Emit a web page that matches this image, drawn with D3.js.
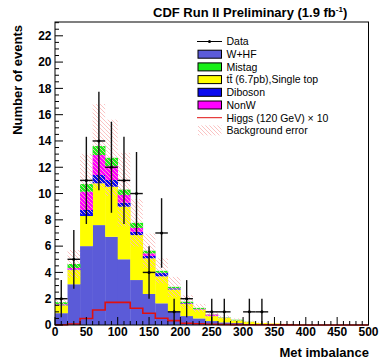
<!DOCTYPE html>
<html><head><meta charset="utf-8">
<script src="https://cdn.jsdelivr.net/npm/d3@7"></script>
<style>body{margin:0;background:#fff}svg{display:block}text{font-family:"Liberation Sans",Arial,Helvetica,sans-serif}</style>
</head><body>
<script>
// bin lower edges (GeV), width 20
const binLow = [0,20,40,60,80,100,120,140,160,180,200,220,240,260,280,300,320,340,360,380,400,420,440,460,480];
const binWidth = 20;
const whf    = [0.9,3.1,6.0,7.6,6.71,5.0,3.42,2.36,1.65,1.06,0.68,0.5,0.3,0.2,0.15,0.08,0.05,0.04,0.02,0.01,0,0,0,0,0];
const ttop   = [0.6,1.08,2.29,3.18,3.81,4.0,3.42,2.71,2.05,1.64,0.92,0.68,0.38,0.35,0.2,0.16,0.1,0.08,0.06,0.03,0.01,0,0,0,0];
const dibos  = [0.03,0.04,0.46,0.63,0.51,0.3,0.25,0.18,0.25,0.08,0.05,0.02,0.02,0.01,0.01,0,0,0,0,0,0,0,0,0,0];
const nonw   = [0.05,0.12,1.39,1.52,1.06,0.6,0.3,0.2,0.02,0.02,0.02,0.02,0.1,0,0,0,0,0,0,0,0,0,0,0,0];
const mistag = [0.15,0.3,0.58,0.68,0.63,0.4,0.38,0.2,0.15,0.1,0.1,0.08,0.02,0.02,0.04,0.01,0,0,0,0,0,0,0,0,0];
const bkgErr = [0.3,1.07,2.3,3.2,2.9,2.8,1.8,1.3,0.95,0.76,0.5,0.3,0.2,0.15,0.1,0.08,0.05,0.04,0.03,0.02,0,0,0,0,0];
const higgs  = [0.02,0.08,0.5,1.14,1.72,1.72,1.27,0.89,0.51,0.33,0.13,0.1,0.06,0.04,0.03,0.02,0.02,0.01,0.01,0,0,0,0,0,0];
const dataN  = [2,5,11,14,12,11,10,4,7,1,2,0,1,1,0,1,1,0,0,0,0,0,0,0,0];
const xTicks = [0,50,100,150,200,250,300,350,400,450,500];
const yTicks = [0,2,4,6,8,10,12,14,16,18,20,22];
const series = [
  {name:"W+HF", vals:whf, color:"#5b5bd8"},
  {name:"tt\u0304 (6.7pb),Single top", vals:ttop, color:"#ffff00"},
  {name:"Diboson", vals:dibos, color:"#0a0af0"},
  {name:"NonW", vals:nonw, color:"#ff00ff"},
  {name:"Mistag", vals:mistag, color:"#18f018"}
];
const legendOrder = ["Data","W+HF","Mistag","tt\u0304 (6.7pb),Single top","Diboson","NonW","Higgs (120 GeV) \u00d7 10","Background error"];

const W=381,H=364;
const svg=d3.select("body").append("svg").attr("width",W).attr("height",H);
const x=d3.scaleLinear().domain([0,500]).range([55,368.5]);
const y=d3.scaleLinear().domain([0,23.05]).range([325,22]);

const defs=svg.append("defs");
const pat=defs.append("pattern").attr("id","hatch").attr("patternUnits","userSpaceOnUse").attr("width",4).attr("height",4);
pat.append("path").attr("d","M-1,-1L5,5M-1,3L1,5M3,-1L5,1").attr("stroke","#f9bcbc").attr("stroke-width",0.9);

// stacked bars
const keys=series.map(s=>s.name);
const rows=binLow.map((b,i)=>{const r={b};series.forEach(s=>r[s.name]=s.vals[i]);return r;});
const stack=d3.stack().keys(keys)(rows);
stack.forEach((layer,li)=>{
  svg.append("g").selectAll("rect").data(layer).join("rect")
    .attr("x",d=>x(d.data.b)).attr("width",d=>x(d.data.b+binWidth)-x(d.data.b)+0.3)
    .attr("y",d=>y(d[1])).attr("height",d=>Math.max(0,y(d[0])-y(d[1])))
    .attr("fill",series[li].color);
});
// error band
const totals=binLow.map((b,i)=>series.reduce((a,s)=>a+s.vals[i],0));
svg.append("g").selectAll("rect").data(binLow.map((b,i)=>({b,t:totals[i],e:bkgErr[i]})).filter(d=>d.e>0)).join("rect")
  .attr("x",d=>x(d.b)).attr("width",d=>x(d.b+binWidth)-x(d.b))
  .attr("y",d=>y(d.t+d.e)).attr("height",d=>y(Math.max(0,d.t-d.e))-y(d.t+d.e))
  .attr("fill","url(#hatch)");
// Higgs step line
const hpts=[];
binLow.forEach((b,i)=>{hpts.push([x(b),y(higgs[i])]);hpts.push([x(b+binWidth),y(higgs[i])]);});
svg.append("path").attr("d",d3.line()(hpts)).attr("fill","none").attr("stroke","#e01010").attr("stroke-width",1.6);
// data
const dg=svg.append("g");
binLow.forEach((b,i)=>{
  const n=dataN[i]; if(n<=0) return;
  const cx=x(b+binWidth/2), e=Math.sqrt(n);
  dg.append("line").attr("x1",cx).attr("x2",cx).attr("y1",y(n+e)).attr("y2",y(Math.max(0,n-e))).attr("stroke","#111").attr("stroke-width",1.4);
  dg.append("line").attr("x1",x(b)).attr("x2",x(b+binWidth)).attr("y1",y(n)).attr("y2",y(n)).attr("stroke","#111").attr("stroke-width",1.4);
  dg.append("circle").attr("cx",cx).attr("cy",y(n)).attr("r",1.5).attr("fill","#000");
});
// frame
svg.append("rect").attr("x",55).attr("y",22).attr("width",313.5).attr("height",303).attr("fill","none").attr("stroke","#000").attr("stroke-width",1);
// y ticks
const ax=svg.append("g");
d3.range(0,23.01,0.5).forEach(v=>{
  const major=Math.abs(v%2)<1e-6;
  ax.append("line").attr("x1",55).attr("x2",55+(major?8:4)).attr("y1",y(v)).attr("y2",y(v)).attr("stroke","#000").attr("stroke-width",1);
});
yTicks.forEach(v=>ax.append("text").attr("x",51.5).attr("y",y(v)+4.3).attr("text-anchor","end").attr("font-size",12).attr("font-weight","bold").text(v));
d3.range(0,500.1,10).forEach(v=>{
  const major=v%50===0;
  ax.append("line").attr("x1",x(v)).attr("x2",x(v)).attr("y1",325).attr("y2",325-(major?8:4)).attr("stroke","#000").attr("stroke-width",1);
});
xTicks.forEach(v=>ax.append("text").attr("x",x(v)).attr("y",336).attr("text-anchor","middle").attr("font-size",12).attr("font-weight","bold").text(v));
// axis titles
svg.append("text").attr("x",369).attr("y",357).attr("text-anchor","end").attr("font-size",13).attr("font-weight","bold").text("Met imbalance");
svg.append("text").attr("transform","translate(22,25) rotate(-90)").attr("text-anchor","end").attr("font-size",13).attr("font-weight","bold").text("Number of events");
// title
const t=svg.append("text").attr("x",153).attr("y",17).attr("font-size",13).attr("font-weight","bold");
t.append("tspan").text("CDF Run II Preliminary (1.9 fb");
t.append("tspan").attr("dy",-5).attr("font-size",8).text("-1");
t.append("tspan").attr("dy",5).text(")");
// legend
const lg=svg.append("g").attr("font-size",10.5);
legendOrder.forEach((name,i)=>{
  const cy=41.5+i*12.7;
  const s=series.find(q=>q.name===name);
  if(name==="Data"){
    lg.append("line").attr("x1",197).attr("x2",222).attr("y1",cy).attr("y2",cy).attr("stroke","#000").attr("stroke-width",1);
    lg.append("circle").attr("cx",209.5).attr("cy",cy).attr("r",1.5);
  } else if(s){
    lg.append("rect").attr("x",198).attr("y",cy-4).attr("width",23.5).attr("height",8).attr("fill",s.color).attr("stroke","#000").attr("stroke-width",1);
  } else if(name.startsWith("Higgs")){
    lg.append("line").attr("x1",197).attr("x2",222).attr("y1",cy).attr("y2",cy).attr("stroke","#e01010").attr("stroke-width",1);
  } else {
    lg.append("rect").attr("x",198).attr("y",cy-5).attr("width",23.5).attr("height",10).attr("fill","url(#hatch)");
  }
  lg.append("text").attr("x",226.5).attr("y",cy+3.8).text(name);
});
</script>
</body></html>
